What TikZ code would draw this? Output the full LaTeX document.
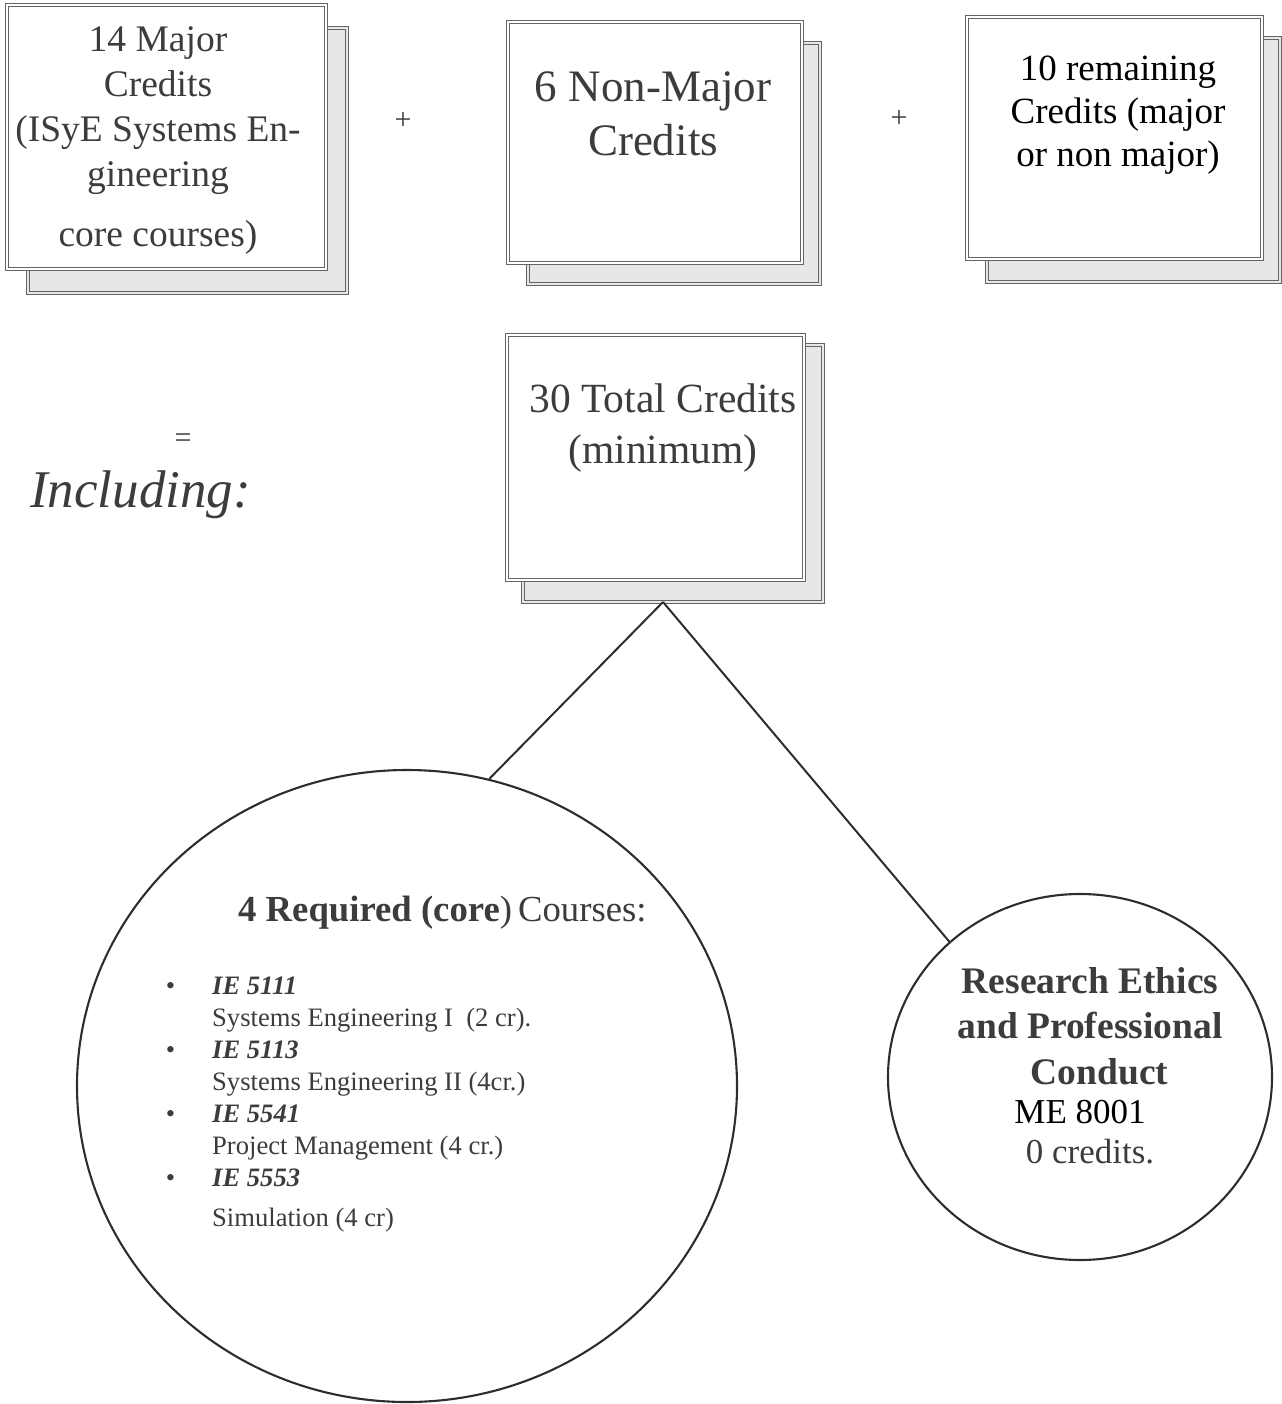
\documentclass[tikz,border=0pt]{standalone}
\usepackage{fontspec}
\setmainfont{Liberation Serif}
\usepackage{tikz}
\usepackage{xcolor}
\usetikzlibrary{shapes.geometric, positioning, calc}
\definecolor{cText}{RGB}{60,60,60}
\definecolor{cBorder}{RGB}{100,100,100}
\definecolor{cShade}{RGB}{230,231,232}
\definecolor{cLine}{RGB}{45,45,45}
\tikzset{
    frontbox/.style={rectangle, inner sep=0pt, draw=cBorder, line width=1.5pt, double=white, double distance=1.5pt, fill=white},
    backbox/.style ={rectangle, inner sep=0pt, draw=cBorder, line width=1.5pt, double=cShade, double distance=1.5pt, fill=cShade},
    boxtext/.style ={inner sep=0pt, align=center, text=cText},
    bubble/.style  ={ellipse, inner sep=0pt, draw=cLine, line width=2.1pt},
    link/.style    ={draw=cLine, line width=2pt},
    sign/.style    ={inner sep=0pt, text=cText, font=\fontsize{30}{36}\selectfont},
}

\begin{document}
\begin{tikzpicture}[x=1pt, y=-1pt]
    \useasboundingbox (0,0) rectangle (1281,1404);
    % stacked boxes: shadow first, then the front sheet
    \node[backbox, minimum width=319pt, minimum height=265pt] (majorBack) at (187.5,160.5) {};
    \node[frontbox, minimum width=319pt, minimum height=264pt] (major) at (166.5,137) {};
    \node[backbox, minimum width=292pt, minimum height=241pt] (nonmajorBack) at (674,163.5) {};
    \node[frontbox, minimum width=294pt, minimum height=241pt] (nonmajor) at (655,142.5) {};
    \node[backbox, minimum width=293pt, minimum height=244pt] (remainBack) at (1133.5,160) {};
    \node[frontbox, minimum width=295pt, minimum height=242pt] (remain) at (1114.5,138) {};
    \node[backbox, minimum width=300pt, minimum height=257pt] (totalBack) at (673,473.5) {};
    \node[frontbox, minimum width=297pt, minimum height=245pt] (total) at (655.5,457.5) {};

    \node[boxtext, font=\fontsize{37.5}{45}\selectfont, below=22pt of major.north, xshift=-8.5pt]
        (majorTxt) {14 Major\\Credits\\(ISyE Systems En-\\gineering\\[15pt]core courses)};
    \node[boxtext, font=\fontsize{45}{54}\selectfont, below=50pt of nonmajor.north, xshift=-2pt]
        (nonmajorTxt) {6 Non-Major\\Credits};
    \node[boxtext, text=black, font=\fontsize{37}{43}\selectfont, below=39pt of remain.north, xshift=3.5pt]
        (remainTxt) {10 remaining\\Credits (major\\or non major)};
    \node[boxtext, font=\fontsize{41.5}{51}\selectfont, below=49pt of total.north, xshift=7.5pt]
        (totalTxt) {30 Total Credits\\(minimum)};

    \node[sign] (plusA) at (403,121) {+};
    \node[sign] (plusB) at (899,119) {+};
    \node[sign] (equals) at (183,441) {=};
    \node[anchor=base west, inner sep=0pt, text=cText, font=\fontsize{53}{60}\selectfont\itshape]
        (including) at (30,507) {Including:};

    % the two parts under the total
    \node[bubble, minimum width=660pt, minimum height=632pt] (core) at (407,1086) {};
    \node[bubble, minimum width=384pt, minimum height=366pt] (ethics) at (1080,1077) {};
    \coordinate (apex) at (663,602);
    \draw[link] (apex) -- (core.75.5);
    \draw[link] (apex) -- (ethics.134.6);

    \node[anchor=base west, inner sep=0pt, text=cText, font=\fontsize{36.7}{44}\selectfont]
        (coreHead) at (238,921) {\textbf{4 Required (core})\,Courses:};
    \node[anchor=north west, inner sep=0pt, align=left, text=cText, font=\fontsize{26.6}{32}\selectfont]
        (coreList) at (212,977) {%
        \llap{\textbullet\hspace{37pt}}\textbf{\textit{IE 5111}}\\
        Systems Engineering I\ \ (2 cr).\\
        \llap{\textbullet\hspace{37pt}}\textbf{\textit{IE 5113}}\\
        Systems Engineering II (4cr.)\\
        \llap{\textbullet\hspace{37pt}}\textbf{\textit{IE 5541}}\\
        Project Management (4 cr.)\\
        \llap{\textbullet\hspace{37pt}}\textbf{\textit{IE 5553}}\\[8pt]
        Simulation (4 cr)};

    \node[anchor=north, inner sep=0pt, align=center, text=cText, font=\fontsize{37.5}{45.5}\selectfont\bfseries]
        (ethicsTxt) at (1090,967) {Research Ethics\\and Professional\\\ \ Conduct};
    \node[anchor=north, inner sep=0pt, align=center, text=cText, font=\fontsize{35}{40}\selectfont]
        (ethicsCode) at (1090,1100) {\textcolor{black}{ME 8001}\hspace*{20pt}\\0 credits.};
\end{tikzpicture}
\end{document}
